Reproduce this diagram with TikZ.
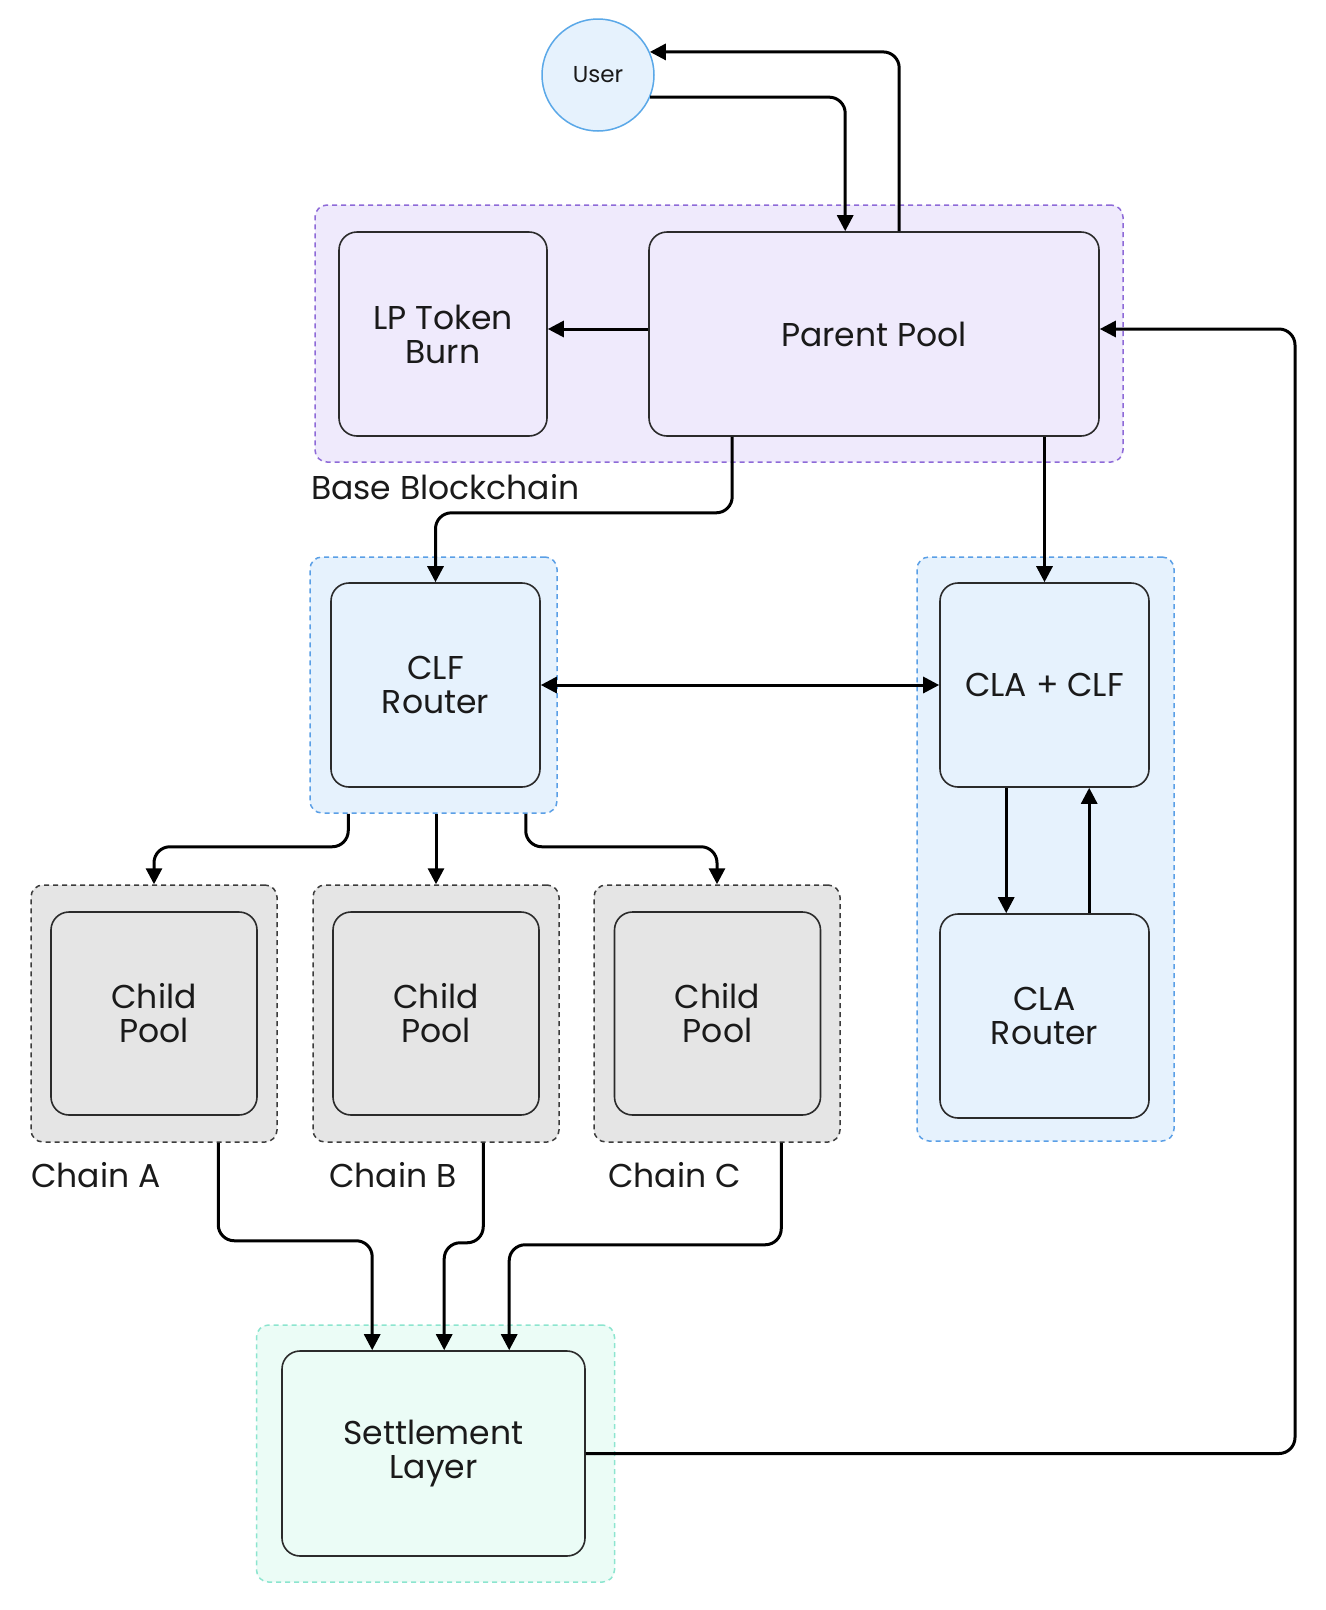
\documentclass[tikz,border=0pt]{standalone}
\usepackage{fontspec}
\setmainfont{Poppins}
\usetikzlibrary{arrows.meta}
\definecolor{txt}{HTML}{1A1A1A}
\definecolor{boxline}{HTML}{2B2B2B}
\definecolor{lavfill}{HTML}{EFEAFC}
\definecolor{lavdash}{HTML}{8E6AD8}
\definecolor{bluefill}{HTML}{E6F2FD}
\definecolor{bluedash}{HTML}{5A9FE6}
\definecolor{userline}{HTML}{5AA8E8}
\definecolor{grayfill}{HTML}{E5E5E5}
\definecolor{graydash}{HTML}{3C3C3C}
\definecolor{tealfill}{HTML}{EBFCF6}
\definecolor{tealdash}{HTML}{8CE5CF}
\tikzset{
  container/.style={rounded corners=12pt, line width=1.5pt, dash pattern=on 5pt off 4pt, inner sep=0pt, anchor=center},
  box/.style={draw=boxline, rounded corners=18pt, line width=1.6pt, align=center, inner sep=0pt, anchor=center, text=txt, font=\fontsize{33}{34}\selectfont},
  lbl/.style={text=txt, inner sep=0pt, anchor=base west, font=\fontsize{33}{34}\selectfont},
  arr/.style={line width=3pt, rounded corners=16pt, -{Triangle[length=16pt,width=16pt]}},
  darr/.style={line width=3pt, {Triangle[length=16pt,width=16pt]}-{Triangle[length=16pt,width=16pt]}}
}
\begin{document}
\begin{tikzpicture}[x=1pt,y=-1pt]
\useasboundingbox[fill=white] (0,0) rectangle (1326,1610);

% containers
\node[container, draw=lavdash, fill=lavfill, minimum width=808pt, minimum height=257pt] (base) at (719,333.5) {};
\node[container, draw=bluedash, fill=bluefill, minimum width=247pt, minimum height=256pt] (clfbox) at (433.5,685) {};
\node[container, draw=bluedash, fill=bluefill, minimum width=257pt, minimum height=584pt] (clabox) at (1045.5,849) {};
\node[container, draw=graydash, fill=grayfill, minimum width=246pt, minimum height=257pt] (chA) at (154,1013.5) {};
\node[container, draw=graydash, fill=grayfill, minimum width=246pt, minimum height=257pt] (chB) at (436,1013.5) {};
\node[container, draw=graydash, fill=grayfill, minimum width=246pt, minimum height=257pt] (chC) at (717,1013.5) {};
\node[container, draw=tealdash, fill=tealfill, minimum width=358pt, minimum height=257pt] (setbox) at (435.5,1453.5) {};

% labels
\node[lbl] (lbase) at (311,499) {Base Blockchain};
\node[lbl] (lA) at (31,1187) {Chain A};
\node[lbl] (lB) at (329,1187) {Chain B};
\node[lbl] (lC) at (608,1187) {Chain C};

% user
\node[circle, draw=userline, line width=1.5pt, fill=bluefill, minimum size=112pt, inner sep=0pt, text=txt, font=\fontsize{23}{25}\selectfont] (user) at (598,75) {User};

% boxes
\node[box, fill=lavfill, minimum width=208pt, minimum height=204pt] (lp) at (443,334) {LP Token\\Burn};
\node[box, fill=lavfill, minimum width=450pt, minimum height=204pt] (pp) at (874,334) {Parent Pool};
\node[box, fill=bluefill, minimum width=209pt, minimum height=204pt] (clf) at (435.5,685) {CLF\\Router};
\node[box, fill=bluefill, minimum width=209pt, minimum height=204pt] (cla) at (1044.5,685) {CLA + CLF};
\node[box, fill=bluefill, minimum width=209pt, minimum height=204pt] (clar) at (1044.5,1016) {CLA\\Router};
\node[box, fill=grayfill, minimum width=206pt, minimum height=203pt] (cpA) at (154,1013.5) {Child\\Pool};
\node[box, fill=grayfill, minimum width=206pt, minimum height=203pt] (cpB) at (436,1013.5) {Child\\Pool};
\node[box, fill=grayfill, minimum width=206pt, minimum height=203pt] (cpC) at (717.5,1013.5) {Child\\Pool};
\node[box, fill=tealfill, minimum width=303pt, minimum height=205pt] (set) at (433.5,1453.5) {Settlement\\Layer};

\coordinate (rr) at (1295,0);
\coordinate (ppy) at (0,329);

% connectors
\draw[arr] ([xshift=251pt]pp.north west) |- (user.24);
\draw[arr] (user.-23) -| ([xshift=197pt]pp.north west);
\draw[arr] (pp.west |- ppy) -- (lp.east |- ppy);
\draw[arr] ([xshift=84pt]pp.south west) -- ++(0,76) -| (clf.north);
\draw[arr] (pp.south -| cla.north) -- (cla.north);
\draw[darr] (clf.east) -- (cla.west);
\draw[arr] ([xshift=67pt]cla.south west) -- ([xshift=67pt]clar.north west);
\draw[arr] ([xshift=150pt]clar.north west) -- ([xshift=150pt]cla.south west);

\draw[arr] ([xshift=39pt]clfbox.south west) -- ++(0,33) -| (chA.north);
\draw[arr] (clfbox.south -| chB.north) -- (chB.north);
\draw[arr] ([xshift=-32pt]clfbox.south east) -- ++(0,33) -| (chC.north);

\draw[arr] ([xshift=188pt]chA.south west) -- ++(0,98) -| ([xshift=91pt]set.north west);
\draw[arr] ([xshift=171pt]chB.south west) -- ++(0,100) -| ([xshift=163pt]set.north west);
\draw[arr] ([xshift=188pt]chC.south west) -- ++(0,102) -| ([xshift=228pt]set.north west);

\draw[arr] (set.east) -| (rr |- ppy) -- (pp.east |- ppy);
\end{tikzpicture}
\end{document}
